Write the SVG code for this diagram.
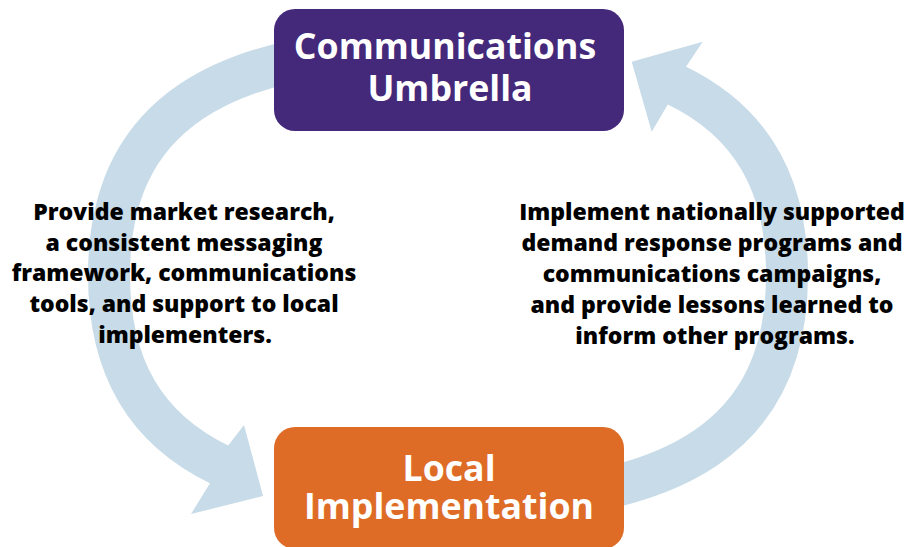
<svg xmlns="http://www.w3.org/2000/svg" width="910" height="547" viewBox="0 0 910 547">
  <style>
    .band { fill: none; stroke: #C7DBE8; stroke-width: 42; stroke-linecap: butt; }
    .head { fill: #C7DBE8; stroke: none; }
    .title { font-family: "Open Sans", "Liberation Sans", sans-serif; font-weight: 700; font-size: 35.7px; fill: #FFFFFF; text-anchor: middle; }
    .body { font-family: "Open Sans", "Liberation Sans", sans-serif; font-weight: 800; font-size: 23px; fill: #000000; text-anchor: middle; }
  </style>
  <rect width="910" height="547" fill="#FFFFFF"/>
  <g id="connectors">
    <path class="band" d="M 448,46.4 C 214.8,46.4 109,117.7 109,275 C 109,366.2 144.6,428.5 220,464.8"/>
    <polygon class="head" points="228.2,445.5 244,425 263,496 191,514 210,483.3"/>
    <path class="band" d="M 448,503.6 C 681.2,503.6 787,432.3 787,275 C 787,183.8 751.4,121.5 676,85.2"/>
    <polygon class="head" points="667.8,104.5 651.7,131.7 631.7,61.7 702.7,41.7 686,66.7"/>
  </g>
  <g id="node-umbrella">
    <rect x="274" y="9" width="350" height="122" rx="21" ry="21" fill="#44297A"/>
    <text class="title"><tspan x="445" y="59">Communications</tspan><tspan x="450" y="100.5">Umbrella</tspan></text>
  </g>
  <g id="node-local">
    <rect x="274" y="427" width="350" height="122" rx="21" ry="21" fill="#DE6C27"/>
    <text class="title"><tspan x="449" y="481">Local</tspan><tspan x="449" y="519">Implementation</tspan></text>
  </g>
  <g id="label-left">
    <text class="body" x="184" y="219.5">Provide market research,</text>
    <text class="body" x="184" y="250.5">a consistent messaging</text>
    <text class="body" x="184" y="281">framework, communications</text>
    <text class="body" x="184" y="312">tools, and support to local</text>
    <text class="body" x="185" y="342.5">implementers.</text>
  </g>
  <g id="label-right">
    <text class="body" x="712" y="220">Implement nationally supported</text>
    <text class="body" x="712" y="251">demand response programs and</text>
    <text class="body" x="712" y="282">communications campaigns,</text>
    <text class="body" x="712" y="313">and provide lessons learned to</text>
    <text class="body" x="715" y="343.5">inform other programs.</text>
  </g>
</svg>
